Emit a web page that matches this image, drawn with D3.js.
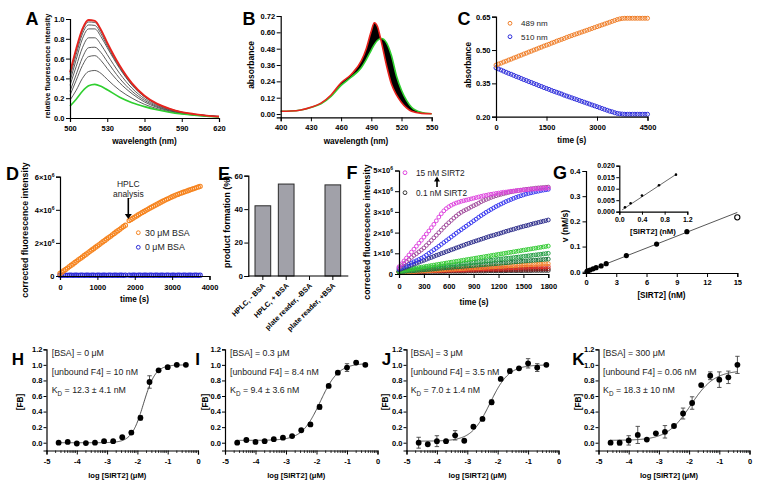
<!DOCTYPE html>
<html><head><meta charset="utf-8">
<script src="https://cdn.jsdelivr.net/npm/d3@7"></script>
<style>body{margin:0;background:#fff}svg{display:block}</style>
</head><body><svg id="chart" width="757" height="485"></svg>
<script>
// ================= DATA =================
// Panel A: fluorescence spectra
const wlA = [500,505,510,515,520,525,530,540,550,560,570,580,590,600,610,620];
const aRed   = [0.46,0.70,0.90,0.99,0.98,0.89,0.76,0.53,0.35,0.225,0.145,0.095,0.06,0.04,0.025,0.015];
const aGrey1 = [0.44,0.68,0.88,0.97,0.965,0.875,0.75,0.525,0.345,0.222,0.143,0.094,0.059,0.039,0.025,0.015];
const aGrey2 = [0.41,0.64,0.85,0.94,0.935,0.85,0.73,0.51,0.335,0.217,0.14,0.092,0.058,0.038,0.024,0.015];
const aGrey3 = [0.37,0.59,0.80,0.90,0.90,0.82,0.71,0.50,0.33,0.213,0.138,0.09,0.057,0.037,0.024,0.014];
const aGrey4 = [0.33,0.52,0.71,0.81,0.81,0.74,0.64,0.45,0.30,0.195,0.127,0.083,0.053,0.035,0.022,0.013];
const aGrey5 = [0.27,0.44,0.61,0.71,0.715,0.66,0.57,0.40,0.27,0.178,0.117,0.077,0.05,0.033,0.021,0.013];
const aGrey6 = [0.23,0.38,0.53,0.62,0.63,0.58,0.50,0.355,0.245,0.162,0.108,0.072,0.047,0.031,0.02,0.012];
const aGrey7 = [0.18,0.28,0.40,0.47,0.48,0.45,0.39,0.28,0.20,0.138,0.095,0.064,0.043,0.028,0.018,0.011];
const aGreen = [0.12,0.19,0.27,0.325,0.34,0.32,0.285,0.21,0.155,0.115,0.083,0.058,0.04,0.027,0.017,0.01];
const aXTicks = [500,530,560,590,620];
const aYTicks = [0,0.2,0.4,0.6,0.8,1.0];

// Panel B: absorbance spectra (first = red, last = green)
const wlB = [400,410,420,430,440,450,460,470,480,485,490,493,496,500,505,510,515,520,525,530,540,550];
const bRed   = [0.02,0.022,0.03,0.05,0.08,0.14,0.23,0.29,0.39,0.48,0.61,0.67,0.645,0.53,0.36,0.22,0.14,0.085,0.045,0.02,0.005,0.002];
const bGreen = [0.02,0.022,0.03,0.048,0.075,0.13,0.21,0.27,0.34,0.40,0.47,0.51,0.54,0.555,0.525,0.43,0.28,0.175,0.10,0.05,0.012,0.002];
const bXTicks = [400,430,460,490,520,550];
const bYTicks = [0,0.12,0.24,0.36,0.48,0.60,0.72];

// Panel C: absorbance vs time, every 75 s
const cOrange = [0.432,0.437,0.441,0.446,0.450,0.455,0.459,0.464,0.468,0.473,
  0.477,0.482,0.486,0.491,0.495,0.500,0.504,0.509,0.513,0.518,
  0.522,0.526,0.531,0.535,0.540,0.544,0.548,0.552,0.557,0.561,
  0.565,0.569,0.573,0.577,0.581,0.585,0.589,0.593,0.597,0.601,
  0.605,0.609,0.613,0.617,0.621,0.625,0.629,0.633,0.637,0.640,
  0.642,0.643,0.643,0.643,0.643,0.643,0.643,0.643,0.643,0.643,0.643];
const cBlue = [0.420,0.415,0.410,0.405,0.400,0.395,0.391,0.386,0.381,0.377,
  0.372,0.367,0.363,0.358,0.354,0.349,0.345,0.340,0.336,0.331,
  0.327,0.323,0.318,0.314,0.310,0.306,0.302,0.297,0.293,0.289,
  0.285,0.281,0.277,0.273,0.269,0.265,0.261,0.257,0.253,0.249,
  0.245,0.241,0.237,0.233,0.229,0.225,0.222,0.218,0.215,0.213,
  0.212,0.211,0.211,0.211,0.211,0.211,0.211,0.211,0.211,0.211,0.211];
const cXTicks = [0,1500,3000,4500];
const cYTicks = [0.20,0.35,0.50,0.65];

// Panel D: corrected fluorescence (x1e6) every 50 s, null = gap for HPLC sampling
const dOrange = [0.15,0.23,0.32,0.40,0.48,0.57,0.65,0.73,0.82,0.90,
  0.99,1.07,1.15,1.24,1.32,1.40,1.49,1.57,1.65,1.74,
  1.82,1.90,1.99,2.07,2.15,2.24,2.32,2.40,2.49,2.57,
  2.66,2.74,2.82,2.91,2.99,3.07, null,
  3.35,3.42,3.49,3.56,3.63,3.70,3.77,3.84,3.90,3.97,
  4.03,4.10,4.16,4.22,4.28,4.34,4.40,4.46,4.52,4.57,
  4.63,4.68,4.74,4.79,4.84,4.89,4.93,4.98,5.02,5.06,
  5.10,5.14,5.18,5.22,5.26,5.30,5.34,5.38,5.42];
const dBlue = [0.05,0.04,0.05,0.05,0.04,0.05,0.05,0.04,0.05,0.05,
  0.04,0.05,0.05,0.04,0.05,0.05,0.04,0.05,0.05,0.04,
  0.05,0.05,0.04,0.05,0.05,0.04,0.05,0.05,0.04,0.05,
  0.05,0.04,0.05,0.05,0.04,0.05, null,
  0.05,0.04,0.05,0.05,0.04,0.05,0.05,0.04,0.05,0.05,
  0.04,0.05,0.05,0.04,0.05,0.05,0.04,0.05,0.05,0.04,
  0.05,0.05,0.04,0.05,0.05,0.04,0.05,0.05,0.04,0.05,
  0.05,0.04,0.05,0.05,0.04,0.05,0.05,0.04,0.05];
const dXTicks = [0,1000,2000,3000,4000];
const dYTicks = [0,2e6,4e6,6e6];

// Panel E: product formation
const eCats = ['HPLC, - BSA','HPLC, + BSA','plate reader, -BSA','plate reader, +BSA'];
const eVals = [42, 55, 0, 54.5];
const eYTicks = [0,20,40,60];

// Panel F: progress curves (x1e6), every 30 s
const f15  = [0.35,0.49,0.63,0.77,0.92,1.06,1.2,1.34,1.49,1.63, 1.78,1.93,2.08,2.24,2.4,2.57,2.75,2.91,3.05,3.16,
  3.25,3.32,3.38,3.43,3.47,3.51,3.54,3.57,3.6,3.63, 3.66,3.69,3.72,3.75,3.78,3.8,3.83,3.85,3.87,3.89,
  3.91,3.93,3.95,3.96,3.98,4.0,4.01,4.03,4.04,4.05, 4.06,4.07,4.08,4.09,4.1,4.11,4.12,4.13,4.14,4.14, 4.15];
const f10  = [0.3,0.4,0.5,0.6,0.7,0.8,0.9,0.98,1.07,1.16, 1.26,1.38,1.5,1.62,1.75,1.87,2.0,2.12,2.25,2.37,
  2.48,2.59,2.7,2.8,2.9,2.98,3.05,3.11,3.17,3.24, 3.3,3.36,3.42,3.49,3.55,3.6,3.65,3.7,3.74,3.78,
  3.82,3.85,3.88,3.91,3.94,3.97,3.99,4.01,4.03,4.05, 4.07,4.09,4.1,4.12,4.13,4.15,4.16,4.17,4.18,4.19, 4.2];
const f7   = [0.25,0.3,0.36,0.41,0.47,0.53,0.59,0.64,0.7,0.76, 0.83,0.91,1.0,1.08,1.17,1.25,1.34,1.43,1.52,1.61,
  1.7,1.79,1.88,1.97,2.06,2.14,2.23,2.31,2.4,2.48, 2.57,2.65,2.74,2.82,2.9,2.98,3.05,3.12,3.19,3.26,
  3.32,3.38,3.44,3.5,3.55,3.6,3.65,3.7,3.74,3.78, 3.82,3.86,3.89,3.92,3.95,3.98,4.0,4.03,4.05,4.07, 4.09];
const f4   = [0.2,0.25,0.29,0.34,0.38,0.43,0.48,0.52,0.57,0.62, 0.66,0.71,0.76,0.8,0.85,0.9,0.94,0.99,1.03,1.08,
  1.12,1.17,1.21,1.26,1.3,1.35,1.39,1.44,1.48,1.52, 1.56,1.6,1.64,1.68,1.72,1.76,1.8,1.84,1.87,1.91,
  1.94,1.98,2.02,2.06,2.09,2.13,2.16,2.2,2.23,2.27, 2.3,2.33,2.36,2.4,2.43,2.46,2.49,2.52,2.55,2.58, 2.61];
const f2   = [0.15,0.17,0.19,0.21,0.23,0.25,0.27,0.29,0.31,0.33, 0.35,0.37,0.39,0.41,0.43,0.45,0.47,0.49,0.51,0.53,
  0.55,0.57,0.59,0.61,0.63,0.65,0.67,0.69,0.71,0.73, 0.75,0.77,0.79,0.81,0.83,0.85,0.87,0.89,0.91,0.93,
  0.95,0.97,0.99,1.01,1.03,1.05,1.07,1.09,1.11,1.13, 1.15,1.17,1.19,1.21,1.23,1.25,1.27,1.29,1.31,1.33, 1.35];
const f1_5 = [0.12,0.135,0.15,0.165,0.18,0.195,0.21,0.225,0.24,0.255, 0.27,0.285,0.3,0.31,0.32,0.335,0.35,0.365,0.38,0.395,
  0.41,0.425,0.44,0.455,0.47,0.485,0.5,0.515,0.53,0.545, 0.56,0.575,0.59,0.605,0.62,0.635,0.65,0.665,0.68,0.695,
  0.71,0.725,0.74,0.75,0.76,0.775,0.79,0.805,0.82,0.835, 0.85,0.865,0.88,0.895,0.91,0.925,0.94,0.955,0.97,0.985, 1.0];
const f1   = [0.1,0.11,0.12,0.13,0.14,0.15,0.16,0.17,0.18,0.19, 0.2,0.21,0.22,0.23,0.24,0.255,0.27,0.28,0.29,0.3,
  0.31,0.32,0.33,0.34,0.35,0.36,0.37,0.38,0.39,0.4, 0.41,0.42,0.43,0.44,0.45,0.46,0.47,0.48,0.49,0.5,
  0.51,0.52,0.53,0.54,0.55,0.565,0.58,0.59,0.6,0.61, 0.62,0.63,0.64,0.65,0.66,0.67,0.68,0.69,0.7,0.71, 0.72];
const f0_7 = [0.08,0.085,0.09,0.1,0.11,0.115,0.12,0.13,0.14,0.145, 0.15,0.155,0.16,0.17,0.18,0.185,0.19,0.2,0.21,0.215,
  0.22,0.225,0.23,0.24,0.25,0.255,0.26,0.27,0.28,0.285, 0.29,0.295,0.3,0.31,0.32,0.325,0.33,0.34,0.35,0.355,
  0.36,0.365,0.37,0.38,0.39,0.395,0.4,0.41,0.42,0.425, 0.43,0.435,0.44,0.45,0.46,0.465,0.47,0.48,0.49,0.495, 0.5];
const f0_4 = [0.1,0.105,0.11,0.115,0.12,0.125,0.13,0.13,0.13,0.135, 0.14,0.145,0.15,0.155,0.16,0.165,0.17,0.175,0.18,0.185,
  0.19,0.195,0.2,0.2,0.2,0.205,0.21,0.215,0.22,0.225, 0.23,0.235,0.24,0.245,0.25,0.255,0.26,0.265,0.27,0.27,
  0.27,0.275,0.28,0.285,0.29,0.295,0.3,0.305,0.31,0.315, 0.32,0.325,0.33,0.335,0.34,0.34,0.34,0.345,0.35,0.355, 0.36];
const f0_2 = [0.12,0.12,0.12,0.125,0.13,0.13,0.13,0.135,0.14,0.14, 0.14,0.145,0.15,0.15,0.15,0.15,0.15,0.155,0.16,0.16,
  0.16,0.165,0.17,0.17,0.17,0.17,0.17,0.175,0.18,0.18, 0.18,0.185,0.19,0.19,0.19,0.195,0.2,0.2,0.2,0.2,
  0.2,0.205,0.21,0.21,0.21,0.215,0.22,0.22,0.22,0.225, 0.23,0.23,0.23,0.23,0.23,0.235,0.24,0.24,0.24,0.245, 0.25];
const f0_1 = [0.1,0.1,0.1,0.1,0.1,0.105,0.11,0.11,0.11,0.11, 0.11,0.115,0.12,0.12,0.12,0.12,0.12,0.12,0.12,0.125,
  0.13,0.13,0.13,0.13,0.13,0.13,0.13,0.135,0.14,0.14, 0.14,0.14,0.14,0.14,0.14,0.145,0.15,0.15,0.15,0.15,
  0.15,0.15,0.15,0.155,0.16,0.16,0.16,0.16,0.16,0.16, 0.16,0.165,0.16,0.165,0.17,0.17,0.17,0.17,0.17,0.17, 0.17];
const fSeries = [f0_1,f0_2,f0_4,f0_7,f1,f1_5,f2,f4,f7,f10,f15];
const fColors = ['#3a3a3a','#8b1c1c','#e53026','#f5892f','#1f7a3c','#27a046','#35cc35','#2e2e8c','#3c3cf0','#a34f9e','#df46df'];
const fXTicks = [0,300,600,900,1200,1500,1800];
const fYTicks = [0,1e6,2e6,3e6,4e6,5e6];

// Panel G: initial rates
const gConc = [0.1,0.2,0.4,0.7,1.0,1.5,2,4,7,10];
const gRate = [0.0019,0.0037,0.0070,0.0115,0.0161,0.023,0.032,0.064,0.11,0.159];
const gOutConc = [15];
const gOutRate = [0.216];
const gSlope = 0.0157;       // linear fit, main
const gInsetSlope = 0.0162;  // linear fit, inset
const gXTicks = [0,3,6,9,12,15];
const gYTicks = [0,0.1,0.2,0.3,0.4];
const gInXTicks = [0,0.4,0.8,1.2];
const gInYTicks = [0,0.005,0.010,0.015,0.020];

// Panels H-K: binding curves
const logC = [-4.6,-4.3,-4.0,-3.7,-3.4,-3.1,-2.8,-2.5,-2.2,-1.9,-1.6,-1.3,-1.0,-0.7,-0.4];
const hFB  = [0.0,0.01,-0.01,-0.005,0.0,0.02,0.02,0.07,0.13,0.32,0.78,0.93,0.97,1.0,1.0];
const hErr = [0.005,0.005,0.005,0.005,0.005,0.01,0.01,0.01,0.02,0.03,0.08,0.01,0.02,0.01,0.01];
const iFB  = [0.0,0.035,0.01,0.02,0.045,0.065,0.085,0.16,0.235,0.46,0.73,0.9,0.965,1.03,1.0];
const iErr = [0.01,0.02,0.01,0.01,0.01,0.01,0.01,0.01,0.02,0.03,0.02,0.02,0.05,0.02,0.02];
const jFB  = [0.0,-0.02,0.02,0.02,0.095,0.025,0.205,0.305,0.52,0.82,0.92,0.955,1.02,0.965,1.0];
const jErr = [0.07,0.01,0.07,0.01,0.06,0.01,0.02,0.01,0.03,0.01,0.03,0.01,0.06,0.05,0.01];
const kFB  = [0.0,0.0,0.03,0.1,0.04,0.12,0.14,0.215,0.375,0.51,0.74,0.86,0.81,0.84,1.0];
const kErr = [0.01,0.03,0.06,0.11,0.01,0.01,0.08,0.02,0.07,0.08,0.02,0.05,0.1,0.08,0.11];
// fitted sigmoid parameters [bottom, top, logEC50, hill]
const hFit = [0.0, 1.0, -1.8, 2.2];
const iFit = [0.03, 1.02, -1.88, 1.45];
const jFit = [0.02, 1.0, -2.25, 1.4];
const kFit = [0.03, 0.93, -1.95, 1.1];
const hAnn = ['[BSA] = 0 μM', '[unbound F4] = 10 nM', '12.3 ± 4.1 nM'];
const iAnn = ['[BSA] = 0.3 μM', '[unbound F4] = 8.4 nM', '9.4 ± 3.6 nM'];
const jAnn = ['[BSA] = 3 μM', '[unbound F4] = 3.5 nM', '7.0 ± 1.4 nM'];
const kAnn = ['[BSA] = 300 μM', '[unbound F4] = 0.06 nM', '18.3 ± 10 nM'];
const bXTicksLog = [-5,-4,-3,-2,-1,0];
const bYTicksFB = [0,0.2,0.4,0.6,0.8,1.0,1.2];

// ================= HELPERS =================
const FONT = "'Liberation Sans', Arial, Helvetica, sans-serif";
const svg = d3.select('#chart');
svg.append('rect').attr('width',757).attr('height',485).attr('fill','#fff');

function styleAxis(g, fs){
  g.select('.domain').attr('stroke','#000').attr('stroke-width',1.2);
  g.selectAll('.tick line').attr('stroke','#000').attr('stroke-width',1);
  g.selectAll('.tick text').attr('font-family',FONT).attr('font-weight','bold').attr('font-size',fs).attr('fill','#000');
}
function axB(scale, y, o={}){
  const a = d3.axisBottom(scale).tickSizeOuter(0).tickSize(o.ts ?? 4).tickPadding(o.pad ?? 3.5);
  if(o.values) a.tickValues(o.values);
  if(o.format) a.tickFormat(o.format);
  const g = svg.append('g').attr('transform',`translate(0,${y})`).call(a);
  styleAxis(g, o.fs ?? 7.5);
  return g;
}
function axL(scale, x, o={}){
  const a = d3.axisLeft(scale).tickSizeOuter(0).tickSize(o.ts ?? 4).tickPadding(o.pad ?? 1.5);
  if(o.values) a.tickValues(o.values);
  if(o.format) a.tickFormat(o.format);
  const g = svg.append('g').attr('transform',`translate(${x},0)`).call(a);
  styleAxis(g, o.fs ?? 7.5);
  return g;
}
function txt(x,y,s,o={}){
  const t = svg.append('text').attr('x',x).attr('y',y)
    .attr('font-family',FONT).attr('font-size',o.fs ?? 8.2).attr('font-weight',o.fw ?? 'bold')
    .attr('text-anchor',o.anchor ?? 'middle').attr('fill',o.fill ?? '#000').text(s);
  if(o.rot) t.attr('transform',`rotate(${o.rot},${x},${y})`);
  return t;
}
function sciTicks(g){
  g.selectAll('.tick text').each(function(d){
    const t = d3.select(this); t.text(null);
    if(d===0){ t.text('0'); return; }
    t.append('tspan').text(`${d/1e6}×10`);
    t.append('tspan').attr('font-size',5).attr('dy',-3).text('6');
  });
}
function dots(data, xs, ys, o){
  svg.append('g').selectAll('circle').data(data).join('circle')
    .attr('cx',d=>xs(d[0])).attr('cy',d=>ys(d[1])).attr('r',o.r)
    .attr('fill',o.fill ?? 'none').attr('stroke',o.stroke ?? 'none').attr('stroke-width',o.sw ?? 1);
}
function arrow(x, yFrom, yTo, w){
  const s = Math.sign(yTo-yFrom);
  svg.append('line').attr('x1',x).attr('x2',x).attr('y1',yFrom).attr('y2',yTo - s*4)
    .attr('stroke','#000').attr('stroke-width',1.6);
  svg.append('path').attr('d',`M${x-w},${yTo-s*5}L${x+w},${yTo-s*5}L${x},${yTo}Z`).attr('fill','#000');
}

// ================= PANEL A =================
{
  const x = d3.scaleLinear().domain([500,620]).range([70,219]);
  const y = d3.scaleLinear().domain([0,1]).range([118,19]);
  const line = d3.line().x((d,i)=>x(wlA[i])).y(d=>y(d)).curve(d3.curveMonotoneX);
  [aGrey7,aGrey6,aGrey5,aGrey4,aGrey3,aGrey2,aGrey1].forEach(arr=>
    svg.append('path').attr('d',line(arr)).attr('fill','none').attr('stroke','#4a4a4a').attr('stroke-width',0.9));
  svg.append('path').attr('d',line(aGreen)).attr('fill','none').attr('stroke','#2fcf2f').attr('stroke-width',1.6);
  svg.append('path').attr('d',line(aRed)).attr('fill','none').attr('stroke','#e8231d').attr('stroke-width',1.8);
  axB(x,118,{values:aXTicks,format:d3.format('d')});
  axL(y,70,{values:aYTicks,format:d3.format('.1f')});
  txt(144.5,144,'wavelength (nm)');
  txt(49.5,66,'relative fluorescence intensity',{rot:-90,fs:7.3});
  txt(32,25,'A',{fs:18});
}

// ================= PANEL B =================
{
  const x = d3.scaleLinear().domain([400,550]).range([280.7,431.7]);
  const y = d3.scaleLinear().domain([-0.024,0.72]).range([117.3,16]);
  const area = d3.area().x((d,i)=>x(wlB[i])).y0((d,i)=>y(bGreen[i])).y1(d=>y(d)).curve(d3.curveMonotoneX);
  svg.append('path').attr('d',area(bRed)).attr('fill','#000');
  const line = d3.line().x((d,i)=>x(wlB[i])).y(d=>y(d)).curve(d3.curveMonotoneX);
  svg.append('path').attr('d',line(bGreen)).attr('fill','none').attr('stroke','#2fcf2f').attr('stroke-width',1.6);
  svg.append('path').attr('d',line(bRed)).attr('fill','none').attr('stroke','#e8231d').attr('stroke-width',1.6);
  axB(x,y(-0.024),{values:bXTicks,format:d3.format('d')});
  axL(y,280.7,{values:bYTicks,format:d3.format('.2f')});
  txt(356,144,'wavelength (nm)');
  txt(254,65,'absorbance',{rot:-90,fs:8.5});
  txt(249,25,'B',{fs:18});
}

// ================= PANEL C =================
{
  const x = d3.scaleLinear().domain([0,4500]).range([496,647.5]);
  const y = d3.scaleLinear().domain([0.2,0.65]).range([116.7,16.7]);
  const t = d3.range(cOrange.length).map(i=>i*75);
  dots(t.map((v,i)=>[v,cBlue[i]]),x,y,{r:2,stroke:'#2f2fdc',sw:1});
  dots(t.map((v,i)=>[v,cOrange[i]]),x,y,{r:2,stroke:'#f07d26',sw:1});
  axB(x,116.7,{values:cXTicks,format:d3.format('d')});
  axL(y,496,{values:cYTicks,format:d3.format('.2f')});
  txt(571.7,143,'time (s)');
  txt(471,65,'absorbance',{rot:-90,fs:8.2});
  txt(464,25,'C',{fs:18});
  svg.append('circle').attr('cx',510).attr('cy',23.3).attr('r',1.9).attr('fill','none').attr('stroke','#f07d26').attr('stroke-width',1);
  svg.append('circle').attr('cx',510).attr('cy',36.7).attr('r',1.9).attr('fill','none').attr('stroke','#2f2fdc').attr('stroke-width',1);
  txt(521,26.2,'489 nm',{fw:'normal',anchor:'start',fs:8,fill:'#222'});
  txt(521,39.6,'510 nm',{fw:'normal',anchor:'start',fs:8,fill:'#222'});
}

// ================= PANEL D =================
{
  const x = d3.scaleLinear().domain([0,4000]).range([60,209.5]);
  const y = d3.scaleLinear().domain([0,6e6]).range([276,176.7]);
  const t = d3.range(dOrange.length).map(i=>i*50);
  dots(t.map((v,i)=>[v,dBlue[i]]).filter(d=>d[1]!=null).map(d=>[d[0],d[1]*1e6]),x,y,{r:2.1,stroke:'#2b2bd6',sw:1.1});
  dots(t.map((v,i)=>[v,dOrange[i]]).filter(d=>d[1]!=null).map(d=>[d[0],d[1]*1e6]),x,y,{r:2.1,stroke:'#f6841f',sw:1.1});
  axB(x,276,{values:dXTicks,format:d3.format('d'),pad:4.5});
  sciTicks(axL(y,60,{values:dYTicks}));
  txt(134.5,302,'time (s)');
  txt(28,230,'corrected fluorescence intensity',{rot:-90,fs:8.8});
  txt(12.5,180,'D',{fs:18});
  txt(128.3,186.5,'HPLC',{fw:'normal',fs:8.5,fill:'#222'});
  txt(128.3,196.5,'analysis',{fw:'normal',fs:8.5,fill:'#222'});
  arrow(128.3,198,219,3.5);
  svg.append('circle').attr('cx',138.3).attr('cy',232.7).attr('r',1.9).attr('fill','none').attr('stroke','#f6841f').attr('stroke-width',1);
  svg.append('circle').attr('cx',138.3).attr('cy',247.3).attr('r',1.9).attr('fill','none').attr('stroke','#2b2bd6').attr('stroke-width',1);
  txt(145,235.8,'30 μM BSA',{fw:'normal',anchor:'start',fs:8.8,fill:'#222'});
  txt(145,250.4,'0 μM BSA',{fw:'normal',anchor:'start',fs:8.8,fill:'#222'});
}

// ================= PANEL E =================
{
  const x = d3.scaleBand().domain(eCats).range([255,340.7]).paddingInner(0.327).paddingOuter(0);
  const y = d3.scaleLinear().domain([0,60]).range([276,175.7]);
  svg.append('g').selectAll('rect').data(eCats.map((c,i)=>({c,v:eVals[i]})).filter(d=>d.v>0)).join('rect')
    .attr('x',d=>x(d.c)).attr('width',x.bandwidth()).attr('y',d=>y(d.v)).attr('height',d=>y(0)-y(d.v))
    .attr('fill','#a1a1a9').attr('stroke','#2a2a2a').attr('stroke-width',1);
  const gx = svg.append('g').attr('transform',`translate(0,${y(0)})`).call(d3.axisBottom(x).tickSize(4).tickFormat(''));
  gx.select('.domain').remove();
  gx.selectAll('.tick line').attr('stroke','#000').attr('stroke-width',1);
  svg.append('line').attr('x1',248.3).attr('x2',348.3).attr('y1',y(0)).attr('y2',y(0)).attr('stroke','#000').attr('stroke-width',1.2);
  axL(y,248.3,{values:eYTicks,format:d3.format('d')});
  eCats.forEach(c=>{
    const cx = x(c)+x.bandwidth()/2+3, cy = 286;
    txt(cx,cy,c,{anchor:'end',rot:-45,fs:7.3});
  });
  txt(229.8,222,'product formation (%)',{rot:-90,fs:8.8});
  txt(224,180,'E',{fs:18});
}

// ================= PANEL F =================
{
  const x = d3.scaleLinear().domain([0,1800]).range([399,548.3]);
  const y = d3.scaleLinear().domain([0,5e6]).range([274,170.5]);
  const t = d3.range(f15.length).map(i=>i*30);
  fSeries.forEach((s,k)=>{
    dots(t.map((v,i)=>[v,s[i]*1e6]),x,y,{r:1.9,stroke:fColors[k],sw:1});
  });
  axB(x,274,{values:fXTicks,format:d3.format('d'),pad:5.5});
  sciTicks(axL(y,399,{values:fYTicks,pad:2}));
  txt(474,304.5,'time (s)');
  txt(369.5,232,'corrected fluorescence intensity',{rot:-90,fs:8.8});
  txt(352,179,'F',{fs:18});
  svg.append('circle').attr('cx',405).attr('cy',172.7).attr('r',1.9).attr('fill','none').attr('stroke',fColors[10]).attr('stroke-width',1);
  svg.append('circle').attr('cx',405).attr('cy',192.7).attr('r',1.9).attr('fill','none').attr('stroke',fColors[0]).attr('stroke-width',1);
  txt(416,175.6,'15 nM SIRT2',{fw:'normal',anchor:'start',fs:8.3,fill:'#222'});
  txt(416,195.6,'0.1 nM SIRT2',{fw:'normal',anchor:'start',fs:8.3,fill:'#222'});
  arrow(437,187,176.5,3);
}

// ================= PANEL G =================
{
  const x = d3.scaleLinear().domain([0,15]).range([586,737.3]);
  const y = d3.scaleLinear().domain([-0.005,0.4]).range([273,171]);
  svg.append('path').attr('d',d3.line()([[x(0),y(0)],[x(15),y(15*gSlope)]]))
    .attr('stroke','#444').attr('stroke-width',0.9).attr('fill','none');
  dots(gConc.map((c,i)=>[c,gRate[i]]),x,y,{r:2.6,fill:'#000'});
  dots(gOutConc.map((c,i)=>[c,gOutRate[i]]),x,y,{r:2.6,fill:'#fff',stroke:'#000',sw:1.1});
  axB(x,273,{values:gXTicks,format:d3.format('d'),pad:2.5});
  axL(y,586,{values:gYTicks,format:d3.format('.1f'),ts:3.5,pad:2});
  txt(661.5,298,'[SIRT2] (nM)');
  txt(568,226,'v (nM/s)',{rot:-90,fs:8.6});
  txt(560,179,'G',{fs:18});
  // inset
  const xi = d3.scaleLinear().domain([0,1.2]).range([619.3,687.3]);
  const yi = d3.scaleLinear().domain([0,0.02]).range([211.7,165.7]);
  svg.append('path').attr('d',d3.line()([[xi(0.05),yi(0.05*gInsetSlope)],[xi(1.0),yi(1.0*gInsetSlope)]]))
    .attr('stroke','#444').attr('stroke-width',0.8).attr('fill','none');
  dots(gConc.slice(0,5).map((c,i)=>[c,gRate[i]]),xi,yi,{r:1.3,fill:'#000'});
  axB(xi,211.7,{values:gInXTicks,format:d3.format('.1f'),ts:3,pad:2.5,fs:7});
  axL(yi,619.3,{values:gInYTicks,format:d3.format('.3f'),ts:3,pad:1.5,fs:7});
  txt(653,234,'[SIRT2] (nM)',{fs:7.8});
}

// ================= PANELS H-K =================
const bottomPanels = [
  {L:'H', x0:46.5, x1:198,   lx:18,    ylx:20,    fb:hFB, err:hErr, fit:hFit, ann:hAnn, ax:51.7},
  {L:'I', x0:225,  x1:377.5, lx:197.5, ylx:205.5, fb:iFB, err:iErr, fit:iFit, ann:iAnn, ax:230},
  {L:'J', x0:406.5,x1:558.5, lx:386.5, ylx:385,   fb:jFB, err:jErr, fit:jFit, ann:jAnn, ax:410.7},
  {L:'K', x0:598.5,x1:749.5, lx:578.5, ylx:578.3, fb:kFB, err:kErr, fit:kFit, ann:kAnn, ax:603}
];
bottomPanels.forEach(p=>{
  const x = d3.scaleLinear().domain([-5,0]).range([p.x0,p.x1]);
  const y = d3.scaleLinear().domain([-0.1,1.2]).range([450.5,349.3]);
  // minor log ticks
  const minor = [];
  for(let d=-5; d<0; d++) for(let k=2;k<=9;k++) minor.push(d+Math.log10(k));
  svg.append('g').selectAll('line').data(minor).join('line')
    .attr('x1',d=>x(d)).attr('x2',d=>x(d)).attr('y1',y(-0.1)).attr('y2',y(-0.1)+2.5)
    .attr('stroke','#000').attr('stroke-width',0.8);
  axB(x,y(-0.1),{values:bXTicksLog,format:d=>String(d),ts:4,pad:4.6});
  axL(y,p.x0,{values:bYTicksFB,format:d3.format('.1f'),ts:3,pad:1});
  // fit curve
  const [b,t,ec,h] = p.fit;
  const xs = d3.range(-4.62,-0.38,0.02);
  svg.append('path').attr('d',d3.line().x(d=>x(d)).y(d=>y(b+(t-b)/(1+Math.pow(10,(ec-d)*h))))(xs))
    .attr('fill','none').attr('stroke','#333').attr('stroke-width',0.85);
  // error bars
  const eg = svg.append('g').attr('stroke','#444').attr('stroke-width',0.9);
  logC.forEach((c,i)=>{
    const v = p.fb[i], e = p.err[i];
    eg.append('line').attr('x1',x(c)).attr('x2',x(c)).attr('y1',y(v-e)).attr('y2',y(v+e));
    eg.append('line').attr('x1',x(c)-2.2).attr('x2',x(c)+2.2).attr('y1',y(v-e)).attr('y2',y(v-e));
    eg.append('line').attr('x1',x(c)-2.2).attr('x2',x(c)+2.2).attr('y1',y(v+e)).attr('y2',y(v+e));
  });
  dots(logC.map((c,i)=>[c,p.fb[i]]),x,y,{r:2.9,fill:'#000'});
  // labels
  txt(p.lx,364.5,p.L,{fs:17});
  txt(p.ylx+2.9,402,'[FB]',{rot:-90,fs:8.3});
  txt((p.x0+p.x1)/2-5,478,'log [SIRT2] (μM)',{fs:7.6});
  txt(p.ax,356.3,p.ann[0],{fw:'normal',anchor:'start',fs:8.8,fill:'#222'});
  txt(p.ax,375,p.ann[1],{fw:'normal',anchor:'start',fs:8.8,fill:'#222'});
  const kd = txt(p.ax,393.3,'',{fw:'normal',anchor:'start',fs:8.8,fill:'#222'});
  kd.append('tspan').text('K');
  kd.append('tspan').attr('font-size',6.3).attr('dy',2.5).text('D');
  kd.append('tspan').attr('dy',-2.5).text(' = '+p.ann[2]);
});
</script></body></html>
